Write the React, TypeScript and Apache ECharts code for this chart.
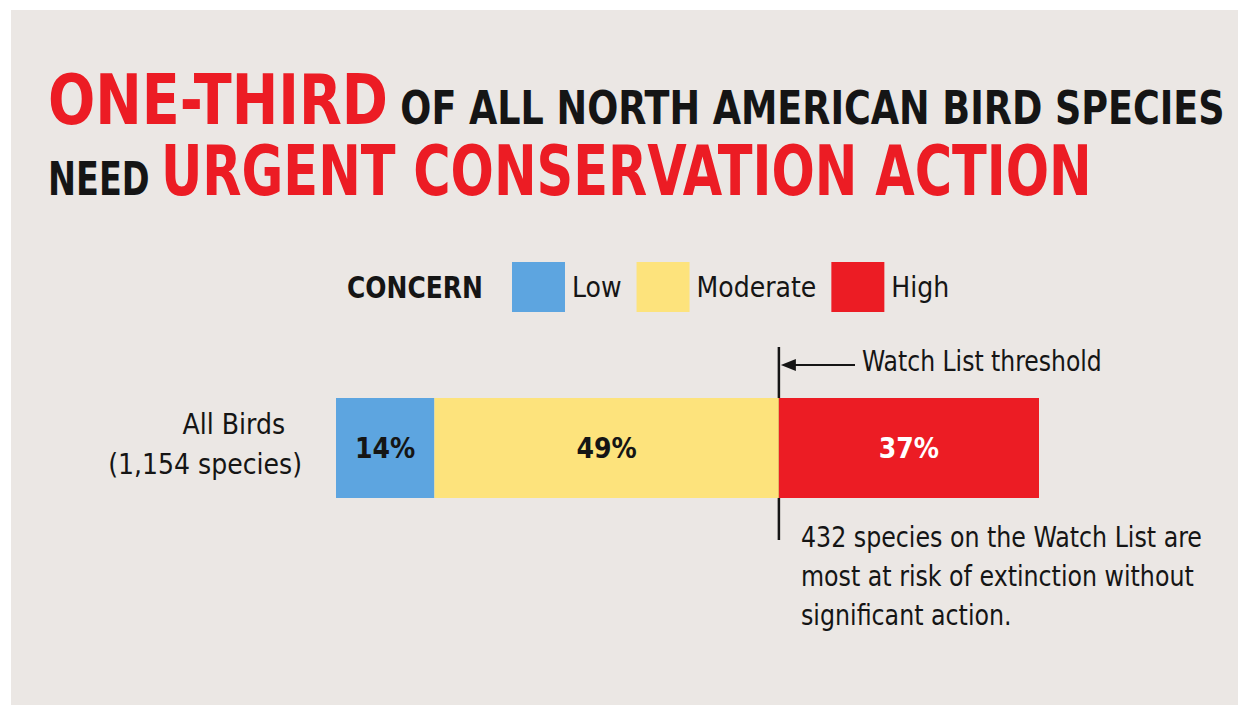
import React, { useEffect, useRef } from 'react';
import * as echarts from 'echarts';

const categories = ['All Birds\n(1,154 species)'];
const concernLevels = ['Low', 'Moderate', 'High'];
const lowValues = [14];
const moderateValues = [49];
const highValues = [37];
const thresholdValue = lowValues[0] + moderateValues[0];
const watchListCount = 432;
const titleLine1 = [
  { text: 'ONE-THIRD', red: true },
  { text: 'OF ALL NORTH AMERICAN BIRD SPECIES', red: false },
];
const titleLine2 = [
  { text: 'NEED', red: false },
  { text: 'URGENT CONSERVATION ACTION', red: true },
];
const annotation = [
  `${watchListCount} species on the Watch List are`,
  'most at risk of extinction without',
  'significant action.',
];

const BLUE = '#5DA5E0';
const YELLOW = '#FDE37C';
const RED = '#EC1C24';
const INK = '#151515';
const FONT = "'Liberation Sans Narrow', 'DejaVu Sans Condensed', 'Roboto Condensed', sans-serif";

function measure(text: string, size: number, weight: string) {
  const c = document.createElement('canvas').getContext('2d')!;
  c.font = `${weight} ${size}px ${FONT}`;
  return c.measureText(text).width;
}

function titleGroup(parts: { text: string; red: boolean }[], x: number, baseline: number, targetW: number) {
  const bigSize = 70;
  const smallSize = 46;
  let cursor = 0;
  const kids: any[] = [];
  parts.forEach((p, i) => {
    const size = p.red ? bigSize : smallSize;
    const w = measure(p.text, size, 'bold');
    kids.push({
      type: 'text',
      x: cursor,
      y: baseline - 0.36 * size,
      style: {
        text: p.text,
        fill: p.red ? RED : INK,
        font: `bold ${size}px ${FONT}`,
        verticalAlign: 'middle',
        align: 'left',
      },
    });
    cursor += w + (i < parts.length - 1 ? 14 : 0);
  });
  const s = targetW / cursor;
  return { type: 'group', x, y: 0, scaleX: s, children: kids };
}

function scaledText(lines: string[], x: number, y: number, size: number, weight: string, targetW: number, extra: any = {}) {
  const w = Math.max(...lines.map((l) => measure(l, size, weight)));
  return {
    type: 'text',
    x,
    y,
    scaleX: targetW / w,
    style: {
      text: lines.join('\n'),
      fill: INK,
      font: `${weight} ${size}px ${FONT}`,
      verticalAlign: 'middle',
      ...extra,
    },
  };
}

export default function App() {
  const ref = useRef<HTMLDivElement>(null);
  useEffect(() => {
    const chart = echarts.init(ref.current!, undefined, { renderer: 'svg' });
    const labelStyle = (color: string) => ({
      show: true,
      position: 'inside',
      formatter: '{c}%',
      color,
      fontFamily: FONT,
      fontWeight: 'bold',
      fontSize: 28,
    });
    chart.setOption({
      animation: false,
      backgroundColor: 'transparent',
      grid: { left: 336, right: 200, top: 398, height: 100 },
      xAxis: { type: 'value', min: 0, max: 100, show: false },
      yAxis: {
        type: 'category',
        data: categories,
        axisLine: { show: false },
        axisTick: { show: false },
        axisLabel: {
          margin: 34,
          align: 'right',
          fontFamily: FONT,
          fontSize: 28,
          lineHeight: 40,
          color: INK,
          padding: [0, 0, 7, 0],
          formatter: (v: string) => {
            const [a, b] = v.split('\n');
            return `{a|${a}}\n{b|${b}}`;
          },
          rich: {
            a: { fontFamily: FONT, fontSize: 28, lineHeight: 40, color: INK, padding: [0, 17, 0, 0] },
            b: { fontFamily: FONT, fontSize: 28, lineHeight: 40, color: INK },
          },
        },
      },
      legend: {
        data: concernLevels,
        left: 512,
        top: 262,
        itemWidth: 53,
        itemHeight: 50,
        itemGap: 15,
        icon: 'rect',
        padding: 0,
        textStyle: { fontFamily: FONT, fontSize: 28, color: INK, padding: [0, 0, 0, 2] },
      },
      series: [
        { name: 'Low', type: 'bar', stack: 'all', data: lowValues, barWidth: '100%', itemStyle: { color: BLUE }, label: labelStyle(INK) },
        { name: 'Moderate', type: 'bar', stack: 'all', data: moderateValues, barWidth: '100%', itemStyle: { color: YELLOW }, label: labelStyle(INK) },
        { name: 'High', type: 'bar', stack: 'all', data: highValues, barWidth: '100%', itemStyle: { color: RED }, label: labelStyle('#ffffff') },
      ],
    });
    const tx = chart.convertToPixel({ xAxisIndex: 0 }, thresholdValue) as number;
    chart.setOption({
      graphic: [
        titleGroup(titleLine1, 48, 125, 1177),
        titleGroup(titleLine2, 48, 196, 1044),
        scaledText(['CONCERN'], 347, 288, 30, 'bold', 136),
        { type: 'line', shape: { x1: tx, y1: 347, x2: tx, y2: 540 }, style: { stroke: INK, lineWidth: 2.5 } },
        { type: 'line', shape: { x1: tx + 8, y1: 365, x2: 855, y2: 365 }, style: { stroke: INK, lineWidth: 2 } },
        {
          type: 'polygon',
          shape: { points: [[tx + 2, 365], [tx + 17, 359], [tx + 17, 371]] },
          style: { fill: INK },
        },
        scaledText(['Watch List threshold'], 862, 361, 28, 'normal', 240),
        scaledText(annotation, 801, 518, 28, 'normal', 401, { lineHeight: 39, verticalAlign: 'top' }),
      ],
    });
    return () => chart.dispose();
  }, []);
  return (
    <div style={{ position: 'fixed', left: 0, top: 0, width: 1239, height: 706, background: '#ffffff' }}>
      <div style={{ position: 'absolute', left: 11, top: 10, width: 1227, height: 695, background: '#EBE7E4' }} />
      <div ref={ref} style={{ position: 'absolute', left: 0, top: 0, width: 1239, height: 706 }} />
    </div>
  );
}
